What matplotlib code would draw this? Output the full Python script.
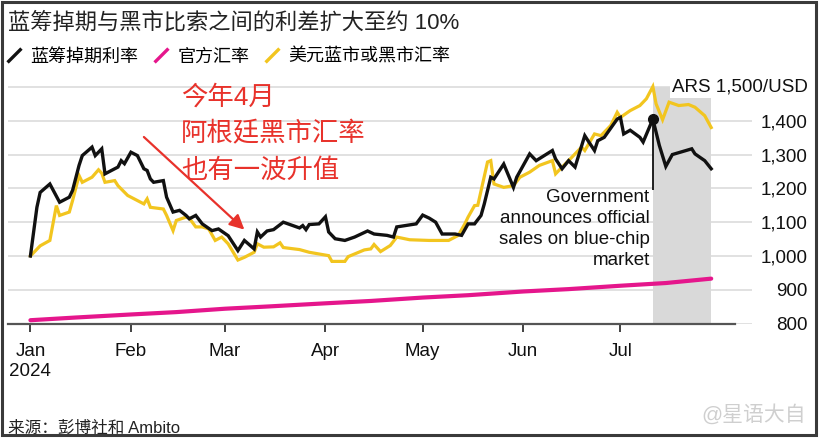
import matplotlib
matplotlib.use('Agg')
import matplotlib.pyplot as plt
import matplotlib.dates as mdates
from matplotlib.lines import Line2D
from matplotlib.patches import Rectangle
import pandas as pd

plt.rcParams['font.family'] = ['Liberation Sans', 'Noto Sans CJK SC', 'DejaVu Sans']

# 蓝筹掉期利率 (ARS/USD)
swap_dates = ['01-01', '01-03', '01-04', '01-07', '01-10', '01-13', '01-14', '01-16', '01-17', '01-20',
              '01-21', '01-23', '01-24', '01-28', '01-29', '01-30', '02-01', '02-03', '02-05', '02-06',
              '02-07', '02-08', '02-11', '02-12', '02-14', '02-16', '02-18', '02-19', '02-21', '02-23',
              '02-26', '02-28', '03-02', '03-05', '03-07', '03-10', '03-11', '03-12', '03-14', '03-16',
              '03-19', '03-24', '03-25', '03-26', '03-27', '03-30', '04-01', '04-02', '04-04', '04-07',
              '04-10', '04-14', '04-16', '04-20', '04-22', '04-23', '04-29', '05-01', '05-03', '05-05',
              '05-07', '05-11', '05-13', '05-15', '05-17', '05-19', '05-20', '05-22', '05-23', '05-26',
              '05-29', '05-30', '06-03', '06-05', '06-10', '06-11', '06-13', '06-15', '06-17', '06-20',
              '06-21', '06-23', '06-24', '06-26', '06-30', '07-01', '07-02', '07-04', '07-07', '07-08',
              '07-11', '07-13', '07-15', '07-17', '07-23', '07-24', '07-27', '07-29']
swap_values = [1000, 1144, 1188, 1213, 1159, 1174, 1194, 1268, 1297, 1322,
               1297, 1317, 1243, 1263, 1282, 1273, 1307, 1297, 1258, 1253,
               1228, 1218, 1223, 1174, 1130, 1135, 1120, 1110, 1120, 1095,
               1075, 1080, 1060, 1016, 1046, 1021, 1071, 1056, 1074, 1078,
               1100, 1083, 1090, 1078, 1093, 1095, 1116, 1071, 1051, 1046,
               1056, 1074, 1065, 1061, 1056, 1086, 1095, 1121, 1112, 1100,
               1065, 1065, 1061, 1095, 1095, 1120, 1154, 1233, 1228, 1272,
               1203, 1233, 1302, 1282, 1312, 1287, 1258, 1282, 1263, 1356,
               1341, 1312, 1341, 1351, 1405, 1410, 1361, 1372, 1351, 1337,
               1405, 1327, 1265, 1300, 1317, 1302, 1282, 1258]

# 美元蓝市或黑市汇率
blue_dates = ['01-01', '01-04', '01-07', '01-09', '01-10', '01-13', '01-14', '01-16', '01-17', '01-20',
              '01-22', '01-23', '01-24', '01-27', '01-28', '01-31', '02-05', '02-06', '02-07', '02-11',
              '02-12', '02-14', '02-15', '02-18', '02-19', '02-21', '02-23', '02-25', '02-27', '02-29',
              '03-02', '03-05', '03-07', '03-10', '03-11', '03-13', '03-16', '03-18', '03-19', '03-24',
              '03-27', '04-02', '04-03', '04-07', '04-08', '04-10', '04-13', '04-15', '04-16', '04-18',
              '04-21', '04-23', '04-27', '05-03', '05-09', '05-12', '05-14', '05-15', '05-17', '05-18',
              '05-21', '05-22', '05-23', '05-26', '05-29', '05-31', '06-03', '06-06', '06-10', '06-11',
              '06-13', '06-15', '06-19', '06-20', '06-23', '06-25', '06-28', '06-30', '07-01', '07-04',
              '07-07', '07-09', '07-11', '07-12', '07-14', '07-16', '07-19', '07-22', '07-24', '07-27',
              '07-29']
blue_values = [1000, 1030, 1046, 1149, 1120, 1130, 1164, 1238, 1218, 1233,
               1255, 1245, 1218, 1223, 1208, 1179, 1154, 1169, 1144, 1139,
               1120, 1075, 1105, 1115, 1112, 1086, 1086, 1080, 1046, 1056,
               1036, 988, 996, 1011, 1036, 1026, 1027, 1039, 1025, 1019,
               1011, 1001, 984, 984, 998, 1006, 1018, 1021, 1034, 1013,
               1031, 1056, 1048, 1046, 1046, 1061, 1095, 1115, 1149, 1150,
               1278, 1282, 1213, 1203, 1208, 1233, 1248, 1268, 1282, 1243,
               1263, 1282, 1322, 1312, 1361, 1356, 1386, 1425, 1410, 1430,
               1445, 1465, 1501, 1450, 1403, 1455, 1445, 1448, 1440, 1415,
               1380]

# 官方汇率
official_dates = ['01-01', '01-15', '02-01', '02-15', '03-01', '03-15', '04-01', '04-15',
                  '05-01', '05-15', '06-01', '06-15', '07-01', '07-15', '07-29']
official_values = [810, 818, 827, 834, 844, 851, 860, 867, 877, 884, 895, 902, 912, 920, 933]

event_date = '07-11'
month_labels = ['Jan\n2024', 'Feb', 'Mar', 'Apr', 'May', 'Jun', 'Jul']
y_ticks = [800, 900, 1000, 1100, 1200, 1300, 1400, 1500]


def to_dt(days):
    return pd.to_datetime(['2024-' + d for d in days])


swap_x = to_dt(swap_dates)
blue_x = to_dt(blue_dates)
official_x = to_dt(official_dates)
event_x = pd.Timestamp('2024-' + event_date)
event_y = swap_values[swap_dates.index(event_date)]

black = '#111111'
yellow = '#f2c51f'
pink = '#e5168c'
red = '#e8322b'

W, H = 821, 443
fig = plt.figure(figsize=(W / 100, H / 100), dpi=100)
ax = fig.add_axes([8 / W, 1 - 323.6 / H, (752 - 8) / W, (323.6 - 80.2) / H])

x_left = pd.Timestamp('2023-12-25 02:00')
x_right = pd.Timestamp('2024-08-10 14:00')
ax.set_xlim(x_left, x_right)
ax.set_ylim(800, 1520)

# 灰色阴影：政府宣布之后
ax.fill_betweenx([800, 1500], event_x, swap_x[-1], color='#d9d9d9', lw=0, zorder=1)

ax.plot(official_x, official_values, color=pink, lw=3.0, solid_capstyle='round', zorder=3)
ax.plot(blue_x, blue_values, color=yellow, lw=2.3, solid_joinstyle='miter', zorder=3)
ax.plot(swap_x, swap_values, color=black, lw=2.4, solid_joinstyle='miter', zorder=4)
ax.plot([event_x], [event_y], 'o', color=black, ms=7, zorder=5)
ax.vlines(event_x, 1195, event_y, color=black, lw=1.3, zorder=4)

ax.text(event_x - pd.Timedelta(days=1), 1198,
        'Government\nannounces official\nsales on blue-chip\nmarket',
        ha='right', va='top', fontsize=13.5, linespacing=1.3, color='#111111', zorder=6)

# 红色注释
ax.text(pd.Timestamp('2024-02-16 12:00'), 1362, '今年4月\n阿根廷黑市汇率\n也有一波升值',
        ha='left', va='center', fontsize=19, color=red, linespacing=1.58, zorder=6)
ax.annotate('', xy=(pd.Timestamp('2024-03-07'), 1078), xytext=(pd.Timestamp('2024-02-05'), 1352),
            arrowprops=dict(arrowstyle='-|>', color=red, lw=1.6, mutation_scale=22,
                            shrinkA=0, shrinkB=0), zorder=6)

# 坐标轴
ax.set_axisbelow(True)
ax.grid(axis='y', color='#dcdcdc', lw=1.2)
ax.grid(axis='x', visible=False)
for s in ['top', 'left', 'right']:
    ax.spines[s].set_visible(False)
ax.spines['bottom'].set_color('#555555')
ax.spines['bottom'].set_linewidth(1.6)
ax.spines['bottom'].set_bounds(mdates.date2num(x_left), mdates.date2num(pd.Timestamp('2024-08-05 10:00')))
ax.spines['bottom'].set_zorder(2)

month_ticks = pd.date_range('2024-01-01', '2024-07-01', freq='MS')
ax.set_xticks(month_ticks)
ax.set_xticklabels(month_labels)
ax.tick_params(axis='x', length=6, width=1.3, color='#333333', pad=8, labelsize=13.5,
               labelcolor='#111111')

ax.yaxis.tick_right()
ax.set_yticks(y_ticks)
ylabels = [f'{v:,}' for v in y_ticks]
ylabels[-1] = ''
ax.set_yticklabels(ylabels)
ax.tick_params(axis='y', length=0, pad=40, labelsize=13.5, labelcolor='#111111')
for lab in ax.get_yticklabels():
    lab.set_horizontalalignment('right')

# 顶部单位标签，盖在阴影上
ax.annotate(f'ARS {y_ticks[-1]:,}/USD', xy=(1, y_ticks[-1]), xycoords=('axes fraction', 'data'),
            xytext=(40, 0), textcoords='offset points', ha='right', va='center',
            fontsize=13.5, color='#111111', zorder=7, annotation_clip=False,
            bbox=dict(facecolor='white', edgecolor='none', pad=1.5))

# 标题与图例
fig.text(8 / W, 1 - 23 / H, '蓝筹掉期与黑市比索之间的利差扩大至约 10%',
         fontsize=16, va='center', ha='left', color='#222222')

stroke = [(-1, -1), (1, 1)]
handles = [Line2D([], [], ls='none', marker=stroke, ms=10, mew=2.4, color=c)
           for c in (black, pink, yellow)]
fig.legend(handles, ['蓝筹掉期利率', '官方汇率', '美元蓝市或黑市汇率'],
           loc='center left', bbox_to_anchor=(7 / W, 1 - 57 / H), ncol=3, frameon=False,
           fontsize=13, handlelength=0.8, handletextpad=0.5, columnspacing=0.85,
           borderpad=0, borderaxespad=0)

fig.text(8 / W, 1 - 428 / H, '来源：彭博社和 Ambito', fontsize=12, va='center', ha='left',
         color='#222222')
fig.text(806 / W, 1 - 414 / H, '@星语大自', fontsize=15, va='center', ha='right',
         color='#cfcfcf')

fig.patches.append(Rectangle((2 / W, 8 / H), (816 - 2) / W, (441 - 8) / H,
                             transform=fig.transFigure, fill=False, edgecolor='#3a3a3a',
                             lw=2.2))

fig.savefig('out.png', dpi=100)
